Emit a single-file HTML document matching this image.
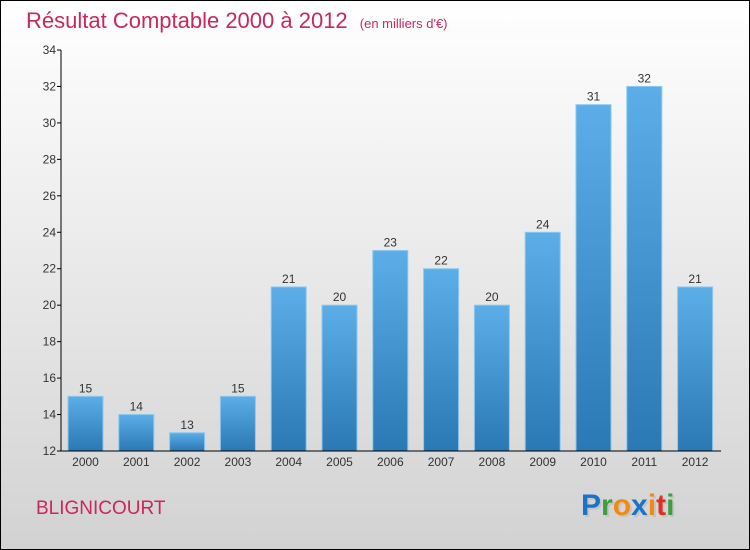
<!DOCTYPE html>
<html><head><meta charset="utf-8"><style>
body{margin:0;}
#c{width:750px;height:550px;position:relative;overflow:hidden;font-family:"Liberation Sans",sans-serif;}
</style></head><body>
<div id="c">
<svg width="750" height="550">
<defs>
<linearGradient id="bg" x1="0" y1="0" x2="0" y2="1"><stop offset="0" stop-color="#ffffff"/><stop offset="1" stop-color="#d2d2d2"/></linearGradient>
<linearGradient id="bar" x1="0" y1="0" x2="0" y2="1"><stop offset="0" stop-color="#5caee8"/><stop offset="1" stop-color="#2a78b4"/></linearGradient>
</defs>
<rect x="0.5" y="0.5" width="749" height="549" fill="url(#bg)" stroke="#000"/>
<text x="26" y="28" font-size="22" fill="#c8285a">Résultat Comptable 2000 à 2012 <tspan font-size="13" dx="6">(en milliers d'€)</tspan></text>
<g id="plot"></g>
<text x="36" y="514" font-size="19" fill="#c8285a">BLIGNICOURT</text>
<g font-size="30" font-weight="bold" font-family="'Liberation Sans',sans-serif">
<text x="583" y="517" fill="#bbb" opacity="0.6">Proxiti</text>
<text x="581" y="515"><tspan fill="#1a73c8">P</tspan><tspan fill="#3aa040">r</tspan><tspan fill="#f08a10">o</tspan><tspan fill="#1a73c8">x</tspan><tspan fill="#f08a10">i</tspan><tspan fill="#e03020">t</tspan><tspan fill="#3aa040">i</tspan></text>
</g>
</svg>
</div>
<script>
const years=["2000","2001","2002","2003","2004","2005","2006","2007","2008","2009","2010","2011","2012"];
const values=[15,14,13,15,21,20,23,22,20,24,31,32,21];
const yTicks=[12,14,16,18,20,22,24,26,28,30,32,34];
const NS="http://www.w3.org/2000/svg";
const g=document.getElementById('plot');
const yMin=12,yMax=34,yTop=50,yBot=451;
const y=v=>yBot-(v-yMin)/(yMax-yMin)*(yBot-yTop);
const x=i=>68+i*50.8;
const bw=35;
function mk(t,a,txt){const e=document.createElementNS(NS,t);for(const k in a)e.setAttribute(k,a[k]);if(txt!==undefined)e.textContent=txt;g.appendChild(e);return e;}
values.forEach((v,i)=>{
 const r=mk('rect',{x:x(i),y:y(v),width:bw,height:yBot-y(v),fill:'url(#bar)',stroke:'#8cc8f0','stroke-width':1});
 
 
 const t=mk('text',{x:x(i)+bw/2,y:y(v)-4,'font-size':12,fill:'#333','text-anchor':'middle'},v);
 
 
 const xl=mk('text',{x:x(i)+bw/2,y:466,'font-size':12,fill:'#333','text-anchor':'middle'},years[i]);
 
 
});
yTicks.forEach(t=>{
 const l=mk('line',{x1:57,x2:61,y1:y(t),y2:y(t),stroke:'#000'});
 
 
 const tx=mk('text',{x:56,y:y(t)+4,'font-size':12,fill:'#333','text-anchor':'end'},t);
 
 
});
const ya=mk('line',{x1:61,x2:61,y1:yTop,y2:yBot,stroke:'#000'});


const xa=mk('line',{x1:61,x2:721,y1:yBot,y2:yBot,stroke:'#000'});


</script>
</body></html>
